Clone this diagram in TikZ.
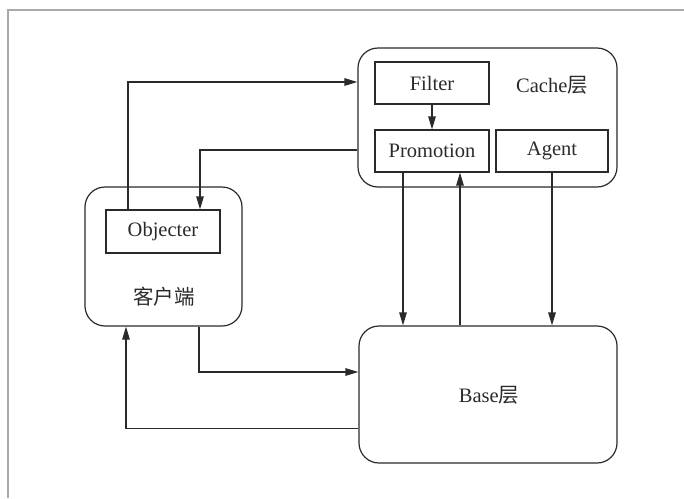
\documentclass[tikz,border=0pt]{standalone}
\usepackage{fontspec}
\setmainfont{Liberation Serif}
\newfontfamily\cjk{Noto Sans CJK SC}
\usetikzlibrary{arrows.meta}
\definecolor{ink}{HTML}{2A2A2A}
\definecolor{framegray}{HTML}{AAAAAA}
\tikzset{
  layer/.style={draw=ink, line width=1.2pt, rounded corners=20pt, inner sep=0pt},
  module/.style={draw=ink, line width=1.2pt, inner sep=0pt, minimum height=42pt,
                 font=\fontsize{20.5}{24}\selectfont, text=ink},
  lbl/.style={font=\fontsize{20.5}{24}\selectfont, text=ink, inner sep=0pt},
  arr/.style={draw=ink, line width=1.2pt, -{Triangle[length=13pt,width=7.5pt]}},
}
\begin{document}
\begin{tikzpicture}[x=1pt,y=-1pt]
  \useasboundingbox (0,0) rectangle (684,498);
  % page frame
  \draw[framegray, line width=1.3pt] (8,498) -- (8,10) -- (684,10);

  % layers
  \node[layer, minimum width=259pt, minimum height=139pt] (cache) at (487.5,117.5) {};
  \node[layer, minimum width=157pt, minimum height=139pt] (client) at (163.5,256.5) {};
  \node[layer, minimum width=258pt, minimum height=137pt] (base) at (488,394.5) {};

  % modules
  \node[module, minimum width=114pt] (filter) at (432,83) {Filter};
  \node[module, minimum width=114pt] (promo) at (432,151) {Promotion};
  \node[module, minimum width=112pt] (agent) at (552,151) {Agent};
  \node[module, minimum width=114pt, minimum height=43pt] (objecter) at (163,231.5) {Objecter};

  % layer labels
  \node[lbl] (cachelbl) at (552,85) {Cache{\cjk 层}};
  \node[lbl] (clientlbl) at (164,297) {{\cjk 客户端}};
  \node[lbl] (baselbl) at (489,395) {Base{\cjk 层}};

  % connectors
  \draw[arr] ([xshift=-35pt]objecter.north) |- ([yshift=35.5pt]cache.west);
  \draw[arr] ([yshift=-32.5pt]cache.west) -| ([xshift=37pt]objecter.north);
  \draw[arr] (filter.south) -- (promo.north);
  \draw[arr] ([xshift=-29pt]promo.south) -- ([xshift=-29pt]promo.south |- base.north);
  \draw[arr] ([xshift=28pt]promo.south |- base.north) -- ([xshift=28pt]promo.south);
  \draw[arr] (agent.south) -- (agent.south |- base.north);
  \draw[arr] ([xshift=35.5pt]client.south) |- ([yshift=22.5pt]base.west);
  \draw[arr] ([yshift=-34pt]base.west) -| ([xshift=-37.5pt]client.south);
\end{tikzpicture}
\end{document}
